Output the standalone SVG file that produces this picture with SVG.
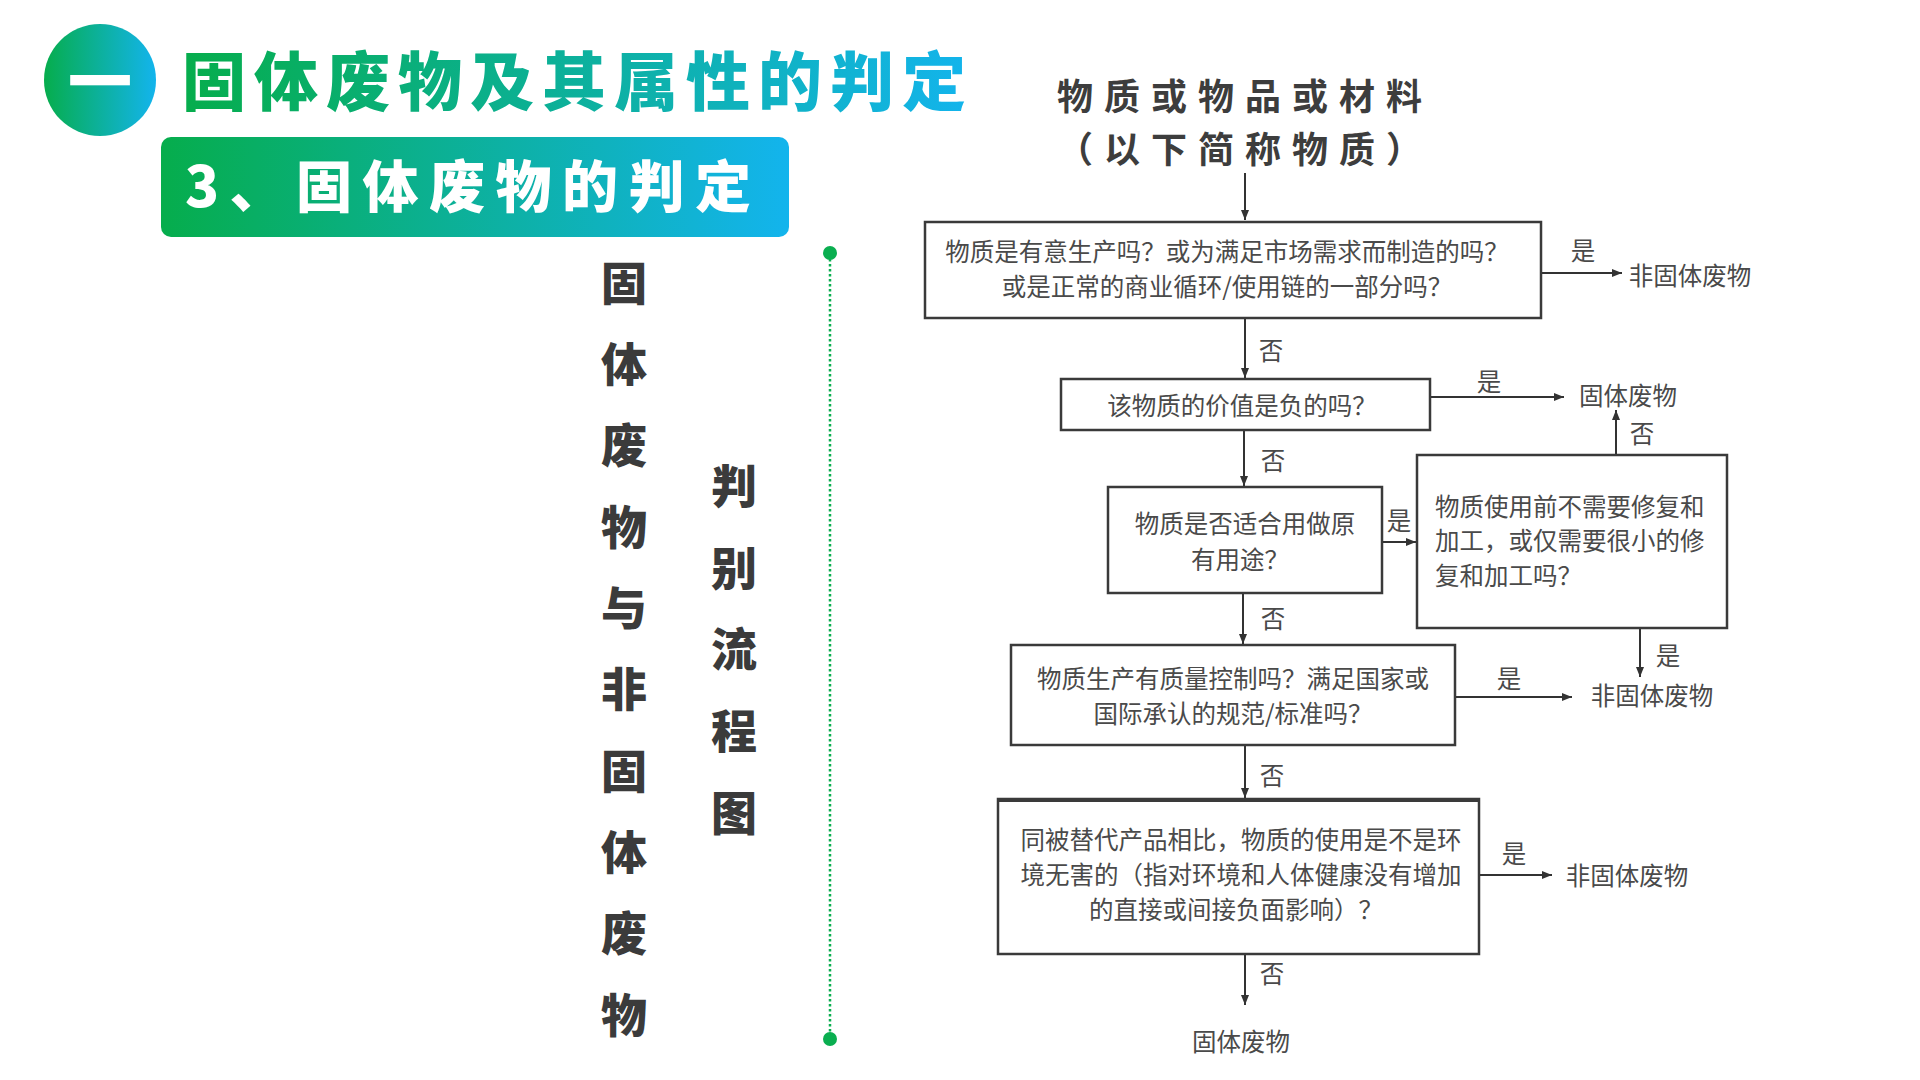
<svg xmlns="http://www.w3.org/2000/svg" width="1920" height="1080" viewBox="0 0 1920 1080">
<defs>
<linearGradient id="gb" x1="0" y1="0" x2="1" y2="0">
<stop offset="0" stop-color="#06ad4c"/>
<stop offset="1" stop-color="#13b4ed"/>
</linearGradient>
<marker id="ah" viewBox="0 0 10 10" refX="10" refY="5" markerWidth="12" markerHeight="10" markerUnits="userSpaceOnUse" orient="auto">
<path d="M0,1 L10,5 L0,9 z" fill="#333"/>
</marker>
</defs>
<style>
.hd{font-family:"Noto Sans CJK SC","Noto Sans",sans-serif;font-weight:900}
.side{font-family:"Noto Sans CJK SC",sans-serif;font-weight:900;font-size:46px;fill:#3b3b3b;text-anchor:middle;dominant-baseline:central}
.ft{font-family:"Noto Sans CJK SC",sans-serif;font-size:24.5px;fill:#4a4a4a;dominant-baseline:central}
.c{text-anchor:middle}
.box{fill:#fff;stroke:#3a3a3a;stroke-width:2.5}
.ln{stroke:#333;stroke-width:2;fill:none;marker-end:url(#ah)}
.top{font-family:"Noto Sans CJK SC",sans-serif;font-weight:700;font-size:36px;fill:#3d3d3d;text-anchor:middle;letter-spacing:11px}
</style>
<rect width="1920" height="1080" fill="#fff"/>

<g id="header">
<circle cx="100" cy="80" r="56" fill="url(#gb)"/>
<text x="100" y="77" class="hd" font-size="64" fill="#fff" text-anchor="middle" dominant-baseline="central">一</text>
<text x="182" y="77" class="hd" font-size="64" fill="url(#gb)" letter-spacing="8" dominant-baseline="central">固体废物及其属性的判定</text>
<rect x="161" y="137" width="628" height="100" rx="10" fill="url(#gb)"/>
<text x="185" y="182" class="hd" font-size="56" fill="#fff" letter-spacing="10.5" dominant-baseline="central">3、固体废物的判定</text>
</g>

<g id="side-labels">
<text class="side">
<tspan x="624" y="280">固</tspan><tspan x="624" y="361">体</tspan><tspan x="624" y="442">废</tspan><tspan x="624" y="524">物</tspan><tspan x="624" y="605">与</tspan><tspan x="624" y="686">非</tspan><tspan x="624" y="768">固</tspan><tspan x="624" y="849">体</tspan><tspan x="624" y="930">废</tspan><tspan x="624" y="1012">物</tspan>
</text>
<text class="side">
<tspan x="734" y="483">判</tspan><tspan x="734" y="565">别</tspan><tspan x="734" y="646">流</tspan><tspan x="734" y="728">程</tspan><tspan x="734" y="810">图</tspan>
</text>
<line x1="830" y1="254" x2="830" y2="1038" stroke="#0aae50" stroke-width="2.5" stroke-dasharray="2.5 2.5"/>
<circle cx="830" cy="253" r="7" fill="#0aae50"/>
<circle cx="830" cy="1039" r="7" fill="#0aae50"/>
</g>

<g id="connectors">
<line class="ln" x1="1245" y1="173" x2="1245" y2="220"/>
<line class="ln" x1="1541" y1="273" x2="1622" y2="273"/>
<line class="ln" x1="1245" y1="318" x2="1245" y2="378"/>
<line class="ln" x1="1430" y1="397" x2="1564" y2="397"/>
<line class="ln" x1="1616" y1="455" x2="1616" y2="410"/>
<line class="ln" x1="1244" y1="430" x2="1244" y2="486"/>
<line class="ln" x1="1382" y1="542" x2="1416" y2="542"/>
<line class="ln" x1="1640" y1="628" x2="1640" y2="677"/>
<line class="ln" x1="1243" y1="593" x2="1243" y2="644"/>
<line class="ln" x1="1455" y1="697" x2="1572" y2="697"/>
<line class="ln" x1="1245" y1="745" x2="1245" y2="798"/>
<line class="ln" x1="1479" y1="875" x2="1552" y2="875"/>
<line class="ln" x1="1245" y1="954" x2="1245" y2="1005"/>
<g class="ft" transform="translate(0,-3)">
<text x="1583" y="252" class="c">是</text>
<text x="1271" y="352" class="c">否</text>
<text x="1489" y="383" class="c">是</text>
<text x="1642" y="435" class="c">否</text>
<text x="1273" y="462" class="c">否</text>
<text x="1399" y="522" class="c">是</text>
<text x="1668" y="657" class="c">是</text>
<text x="1273" y="620" class="c">否</text>
<text x="1509" y="680" class="c">是</text>
<text x="1272" y="777" class="c">否</text>
<text x="1514" y="855" class="c">是</text>
<text x="1272" y="975" class="c">否</text>
</g>
</g>

<g id="start">
<text class="top" dominant-baseline="central"><tspan x="1245" y="94">物质或物品或材料</tspan><tspan x="1245" y="147">（以下简称物质）</tspan></text>
</g>

<g id="q1">
<rect class="box" x="925" y="222" width="616" height="96"/>
<text class="ft c"><tspan x="1227" y="250">物质是有意生产吗？或为满足市场需求而制造的吗？</tspan><tspan x="1227" y="285">或是正常的商业循环/使用链的一部分吗？</tspan></text>
</g>
<g id="r1"><text x="1690" y="274" class="ft c" font-size="21">非固体废物</text></g>

<g id="q2">
<rect class="box" x="1061" y="379" width="369" height="51"/>
<text x="1242" y="404" class="ft c">该物质的价值是负的吗？</text>
</g>
<g id="r2"><text x="1628" y="394" class="ft c">固体废物</text></g>

<g id="q3">
<rect class="box" x="1108" y="487" width="274" height="106"/>
<text class="ft c"><tspan x="1245" y="522">物质是否适合用做原</tspan><tspan x="1240" y="558">有用途？</tspan></text>
</g>

<g id="q4">
<rect class="box" x="1417" y="455" width="310" height="173"/>
<text class="ft"><tspan x="1435" y="505">物质使用前不需要修复和</tspan><tspan x="1435" y="539">加工，或仅需要很小的修</tspan><tspan x="1435" y="574">复和加工吗？</tspan></text>
</g>

<g id="q5">
<rect class="box" x="1011" y="645" width="444" height="100"/>
<text class="ft c"><tspan x="1233" y="677">物质生产有质量控制吗？满足国家或</tspan><tspan x="1233" y="712">国际承认的规范/标准吗？</tspan></text>
</g>
<g id="r3"><text x="1652" y="694" class="ft c">非固体废物</text></g>

<g id="q6">
<rect class="box" x="998" y="799" width="481" height="155"/>
<line x1="998" y1="800" x2="1479" y2="800" stroke="#3a3a3a" stroke-width="4"/>
<text class="ft c"><tspan x="1241" y="838">同被替代产品相比，物质的使用是不是环</tspan><tspan x="1241" y="873">境无害的（指对环境和人体健康没有增加</tspan><tspan x="1236" y="908">的直接或间接负面影响）？</tspan></text>
</g>
<g id="r4"><text x="1627" y="874" class="ft c">非固体废物</text></g>

<g id="r5"><text x="1241" y="1040" class="ft c">固体废物</text></g>
</svg>
